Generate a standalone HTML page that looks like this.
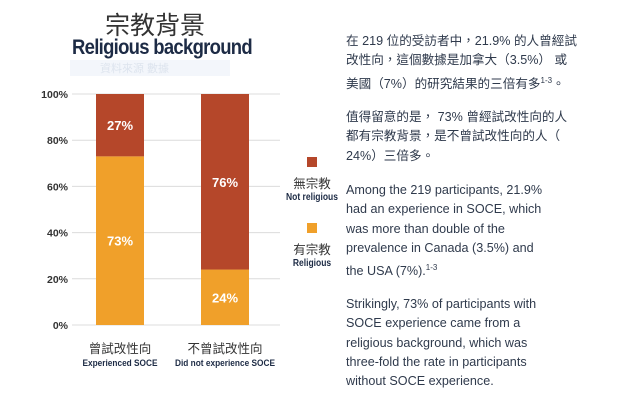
<!DOCTYPE html>
<html><head><meta charset="utf-8">
<style>
body{margin:0;width:619px;height:404px;background:#fff;overflow:hidden;position:relative;font-family:"Liberation Sans","Noto Sans CJK TC",sans-serif;}
.abs{position:absolute;}
.t{color:#2f3a4c;font-size:12.6px;line-height:19.3px;white-space:nowrap;}
</style></head><body>
<div class="abs" style="left:105px;top:6px;font-size:25px;color:#333;font-family:'Noto Sans CJK TC',sans-serif;">宗教背景</div>
<div class="abs" style="left:72px;top:36px;font-size:21px;font-weight:bold;color:#1d2b45;letter-spacing:-0.8px;transform:scaleX(0.88);transform-origin:left;">Religious background</div>
<div class="abs" style="left:70px;top:60px;width:160px;height:16px;background:#f3f6fb;color:#dde4ee;font-size:11px;padding-left:30px;box-sizing:border-box;">資料來源 數據</div>
<svg class="abs" style="left:0;top:0" width="300" height="404" id="chart"></svg>
<div class="abs" style="left:272px;top:157px;width:80px;text-align:center;">
<div style="width:10px;height:10px;background:#b5472a;margin:0 auto 6px;"></div>
<div style="font-size:12.5px;color:#333;">無宗教</div><div style="font-size:10px;font-weight:bold;color:#1d2b45;white-space:nowrap;transform:scaleX(.85)">Not religious</div></div>
<div class="abs" style="left:272px;top:223px;width:80px;text-align:center;">
<div style="width:10px;height:10px;background:#f0a02a;margin:0 auto 6px;"></div>
<div style="font-size:12.5px;color:#333;">有宗教</div><div style="font-size:10px;font-weight:bold;color:#1d2b45;transform:scaleX(.85)">Religious</div></div>
<div class="abs t" style="left:346px;top:32px;">在 219 位的受訪者中，21.9% 的人曾經試<br>改性向，這個數據是加拿大（3.5%） 或<br>美國（7%）的研究結果的三倍有多<sup style="font-size:8px">1-3</sup>。</div>
<div class="abs t" style="left:346px;top:108px;">值得留意的是， 73% 曾經試改性向的人<br>都有宗教背景，是不曾試改性向的人（<br>24%）三倍多。</div>
<div class="abs t" style="left:346px;top:181px;">Among the 219 participants, 21.9%<br>had an experience in SOCE, which<br>was more than double of the<br>prevalence in Canada (3.5%) and<br>the USA (7%).<sup style="font-size:8px">1-3</sup></div>
<div class="abs t" style="left:346px;top:295px;">Strikingly, 73% of participants with<br>SOCE experience came from a<br>religious background, which was<br>three-fold the rate in participants<br>without SOCE experience.</div>
<script>
const categoriesZh=["曾試改性向","不曾試改性向"];
const categoriesEn=["Experienced SOCE","Did not experience SOCE"];
const religious=[73,24];
const notReligious=[27,76];
const ticks=[0,20,40,60,80,100];
const svg=document.getElementById('chart');const NS='http://www.w3.org/2000/svg';
const y0=325,y1=94;const y=v=>y0-(y0-y1)*v/100;
const xc=i=>120+i*105;const bw=48;
function el(t,a,txt){const e=document.createElementNS(NS,t);for(const k in a)e.setAttribute(k,a[k]);if(txt!=null)e.textContent=txt;svg.appendChild(e);return e;}
ticks.forEach(t=>{const g=el('line',{x1:72,x2:280,y1:y(t),y2:y(t),stroke:'#dcdcdc','stroke-width':1});

const l=el('text',{x:68,y:y(t)+4,'text-anchor':'end','font-size':10.5,'font-weight':'bold',fill:'#333'},t+'%');
});
categoriesZh.forEach((c,i)=>{
const r=el('rect',{x:xc(i)-bw/2,y:y(religious[i]),width:bw,height:y(0)-y(religious[i]),fill:'#f0a02a'});

const n=el('rect',{x:xc(i)-bw/2,y:y(religious[i]+notReligious[i]),width:bw,height:y(religious[i])-y(religious[i]+notReligious[i]),fill:'#b5472a'});

const a=el('text',{x:xc(i),y:(y(0)+y(religious[i]))/2+5,'text-anchor':'middle','font-size':13,'font-weight':'bold',fill:'#fff'},religious[i]+'%');

const b=el('text',{x:xc(i),y:(y(religious[i])+y(religious[i]+notReligious[i]))/2+5,'text-anchor':'middle','font-size':13,'font-weight':'bold',fill:'#fff'},notReligious[i]+'%');

const z=el('text',{x:xc(i),y:353,'text-anchor':'middle','font-size':12.5,fill:'#333'},c);

const e=el('text',{x:xc(i),y:366,'text-anchor':'middle','font-size':9.5,'font-weight':'bold',fill:'#1d2b45','textLength':i?100:75,'lengthAdjust':'spacingAndGlyphs'},categoriesEn[i]);

});
</script>
</body></html>
